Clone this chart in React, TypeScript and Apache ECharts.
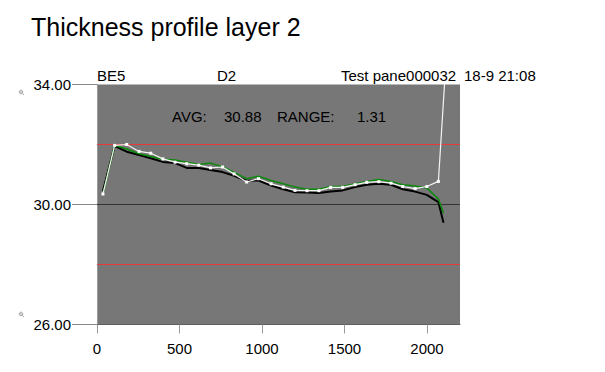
import React, { useEffect, useRef } from "react";
import * as echarts from "echarts";

const positionsWhite = [36, 107, 180, 255, 326, 399, 473, 544, 617, 688, 761, 831, 907, 979, 1055, 1129, 1200, 1273, 1345, 1416, 1489, 1564, 1635, 1708, 1782, 1853, 1928, 1999, 2069, 2113];
const valuesWhite = [30.35, 31.97, 32.0, 31.77, 31.71, 31.52, 31.41, 31.36, 31.31, 31.22, 31.25, 31.02, 30.75, 30.86, 30.69, 30.58, 30.47, 30.46, 30.46, 30.57, 30.57, 30.66, 30.74, 30.76, 30.71, 30.6, 30.53, 30.6, 30.77, 34.6];

const positionsProfile = [36, 107, 180, 255, 326, 399, 473, 544, 617, 688, 761, 831, 907, 979, 1055, 1129, 1200, 1273, 1345, 1416, 1489, 1564, 1635, 1708, 1782, 1853, 1928, 1999, 2069, 2100];
const valuesBlack = [30.45, 31.95, 31.76, 31.65, 31.54, 31.42, 31.38, 31.22, 31.22, 31.15, 31.08, 30.96, 30.79, 30.8, 30.63, 30.51, 30.41, 30.4, 30.38, 30.43, 30.47, 30.58, 30.66, 30.69, 30.66, 30.51, 30.43, 30.32, 30.08, 29.39];
const valuesGreen = [30.35, 31.97, 31.85, 31.69, 31.6, 31.51, 31.48, 31.41, 31.33, 31.38, 31.26, 31.07, 30.86, 30.94, 30.8, 30.69, 30.58, 30.51, 30.51, 30.6, 30.6, 30.69, 30.77, 30.83, 30.77, 30.66, 30.62, 30.55, 30.18, 29.72];

const xTicks = [0, 500, 1000, 1500, 2000];
const xRange = [0, 2200];
const upperLimit = 32;
const lowerLimit = 28;
const nominal = 30;

const titleText = "Thickness profile layer 2";
const headerTexts = ["BE5", "D2", "Test pane000032", "18-9 21:08"];
const statTexts = ["AVG:", "30.88", "RANGE:", "1.31"];

const FONT = "'Liberation Sans', Arial, sans-serif";

export default function App() {
  const ref = useRef<HTMLDivElement>(null);
  useEffect(() => {
    if (!ref.current) return;
    const chart = echarts.init(ref.current, undefined, { renderer: "svg" });
    const zip = (xs: number[], ys: number[]) => xs.map((x, i) => [x, ys[i]]);
    const headerX = [97, 217, 341, 464];
    const statX = [172, 224, 277, 357];
    const mkText = (text: string, x: number, y: number, size: number) => ({
      type: "text",
      x,
      y,
      style: { text, fill: "#000", font: `${size}px ${FONT}`, verticalAlign: "middle", align: "left" },
      z: 10,
    });
    const magnifier = (cx: number, cy: number) => ({
      type: "group",
      children: [
        { type: "circle", shape: { cx, cy, r: 1.8 }, style: { fill: "#d0d0d0", stroke: "#a8a8a8", lineWidth: 1 } },
        { type: "line", shape: { x1: cx + 1.3, y1: cy + 1.3, x2: cx + 3, y2: cy + 3 }, style: { stroke: "#a8a8a8", lineWidth: 1 } },
      ],
    });
    const refLine = (value: number, color: string) => ({
      type: "line",
      data: xRange.map((x) => [x, value]),
      symbol: "none",
      silent: true,
      z: 2,
      lineStyle: { color, width: 1, type: "solid" },
    });
    chart.setOption({
      animation: false,
      grid: {
        left: 97,
        top: 84.5,
        right: 145,
        bottom: 47.5,
        show: true,
        backgroundColor: "#777777",
        borderWidth: 0,
      },
      xAxis: {
        type: "value",
        min: 0,
        max: 2200,
        interval: 500,
        axisLine: { show: true, lineStyle: { color: "#5e5e5e", width: 1 } },
        axisTick: { show: true, length: 9, lineStyle: { color: "#999" }, customValues: xTicks },
        axisLabel: {
          color: "#000",
          fontSize: 15,
          fontFamily: FONT,
          margin: 16,
          customValues: xTicks,
          formatter: (v: number) => String(v),
        },
        splitLine: { show: false },
      },
      yAxis: {
        type: "value",
        min: 26,
        max: 34,
        interval: 4,
        axisLine: { show: true, lineStyle: { color: "#9a9a9a", width: 1 } },
        axisTick: { show: true, length: 25, lineStyle: { color: "#8a8a8a" } },
        axisLabel: {
          color: "#000",
          fontSize: 15,
          fontFamily: FONT,
          margin: 26,
          formatter: (v: number) => v.toFixed(2),
        },
        splitLine: { show: false },
      },
      series: [
        refLine(upperLimit, "#e63a3a"),
        refLine(lowerLimit, "#e63a3a"),
        refLine(nominal, "#333333"),
        {
          type: "line",
          data: zip(positionsProfile, valuesBlack),
          showSymbol: false,
          symbol: "none",
          lineStyle: { color: "#000", width: 2 },
          z: 3,
        },
        {
          type: "line",
          data: zip(positionsProfile, valuesGreen),
          showSymbol: false,
          symbol: "none",
          lineStyle: { color: "#0a8a0a", width: 1.5 },
          z: 4,
        },
        {
          type: "line",
          data: zip(positionsWhite, valuesWhite),
          symbol: "rect",
          symbolSize: 3,
          itemStyle: { color: "#ffffff" },
          lineStyle: { color: "#f4f4f4", width: 1.2 },
          clip: true,
          z: 5,
        },
      ],
      graphic: [
        mkText(titleText, 31, 27, 25),
        ...headerTexts.map((t, i) => mkText(t, headerX[i], 75, 15)),
        ...statTexts.map((t, i) => mkText(t, statX[i], 116, 15)),
        magnifier(21, 92),
        magnifier(21, 314),
      ],
    });
    return () => chart.dispose();
  }, []);
  return (
    <div
      ref={ref}
      style={{ position: "fixed", left: 0, top: 0, width: 605, height: 372, background: "#fff" }}
    />
  );
}
